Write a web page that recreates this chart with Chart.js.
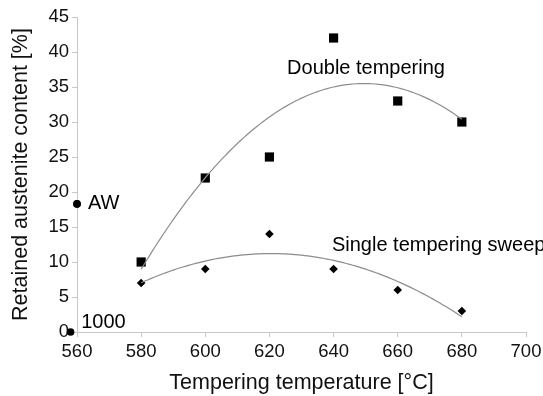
<!DOCTYPE html>
<html>
<head>
<meta charset="utf-8">
<script src="https://cdn.jsdelivr.net/npm/chart.js@4/dist/chart.umd.min.js"></script>
<style>
  html, body { margin: 0; padding: 0; background: #fff; }
  #wrap { width: 543px; height: 396px; position: relative; }
</style>
</head>
<body>
<div id="wrap"><canvas id="austeniteChart"></canvas></div>
<script>
// Measured values
const temps = [580, 600, 620, 640, 660, 680];
const doubleTempering = [10, 22, 25, 42, 33, 30];
const singleTempering = [7, 9, 14, 9, 6, 3];
// reference states: as-welded and 1000
const refTemps = [560, 558];
const refValues = [18.3, 0];
const refNames = ['AW', '1000'];

const xTicks = [560, 580, 600, 620, 640, 660, 680, 700];
const yTicks = [0, 5, 10, 15, 20, 25, 30, 35, 40, 45];

const FONT = 'Liberation Sans, Arial, sans-serif';

// 2nd order least squares trendline (like the spreadsheet trendline)
function polyFit2(xs, ys) {
    const n = xs.length;
    let sx = 0, sx2 = 0, sx3 = 0, sx4 = 0, sy = 0, sxy = 0, sx2y = 0;
    for (let i = 0; i < n; i++) {
        const x = xs[i], y = ys[i];
        sx += x; sx2 += x * x; sx3 += x * x * x; sx4 += x * x * x * x;
        sy += y; sxy += x * y; sx2y += x * x * y;
    }
    // solve 3x3 normal equations with Cramer's rule
    const m = [[n, sx, sx2], [sx, sx2, sx3], [sx2, sx3, sx4]];
    const r = [sy, sxy, sx2y];
    const det = a => a[0][0] * (a[1][1] * a[2][2] - a[1][2] * a[2][1])
        - a[0][1] * (a[1][0] * a[2][2] - a[1][2] * a[2][0])
        + a[0][2] * (a[1][0] * a[2][1] - a[1][1] * a[2][0]);
    const d = det(m);
    const coef = [0, 1, 2].map(k => {
        const mk = m.map((row, i) => row.map((v, j) => (j === k ? r[i] : v)));
        return det(mk) / d;
    });
    return x => coef[0] + coef[1] * x + coef[2] * x * x;
}

function trendPoints(xs, ys) {
    const f = polyFit2(xs.map(x => x - 630), ys);
    const pts = [];
    for (let x = xs[0]; x <= xs[xs.length - 1]; x += 1) {
        pts.push({ x: x, y: f(x - 630) });
    }
    return pts;
}

const toPoints = (xs, ys) => xs.map((x, i) => ({ x: x, y: ys[i] }));

// text labels placed in data coordinates (left edge, vertical middle)
const annotations = [
    { text: 'Double tempering', x: 625.5, y: 37.6 },
    { text: 'Single tempering sweep', x: 639.5, y: 12.4 },
    { text: refNames[0], x: 563.4, y: 18.3 },
    { text: refNames[1], x: 561.3, y: 1.4 }
];

const textLabels = {
    id: 'textLabels',
    afterDatasetsDraw(chart) {
        const { ctx, scales } = chart;
        // the 1000 point sits just left of the axis, draw it without the area check
        chart.getDatasetMeta(4).data.forEach(el => el.draw(ctx));
        ctx.save();
        ctx.font = '20px ' + FONT;
        ctx.fillStyle = '#000';
        ctx.textAlign = 'left';
        ctx.textBaseline = 'middle';
        annotations.forEach(a => {
            ctx.fillText(a.text, scales.x.getPixelForValue(a.x), scales.y.getPixelForValue(a.y));
        });
        ctx.restore();
    }
};

const ctx = document.getElementById('austeniteChart').getContext('2d');
new Chart(ctx, {
    type: 'scatter',
    data: {
        datasets: [
            {
                label: 'Double tempering trend',
                type: 'line',
                data: trendPoints(temps, doubleTempering),
                borderColor: '#8c8c8c',
                borderWidth: 1.2,
                pointRadius: 0,
                fill: false
            },
            {
                label: 'Single tempering trend',
                type: 'line',
                data: trendPoints(temps, singleTempering),
                borderColor: '#8c8c8c',
                borderWidth: 1.2,
                pointRadius: 0,
                fill: false
            },
            {
                label: 'Double tempering',
                data: toPoints(temps, doubleTempering),
                pointStyle: 'rect',
                pointRadius: 6.5,
                backgroundColor: '#000',
                borderColor: '#000',
                borderWidth: 0
            },
            {
                label: 'Single tempering sweep',
                data: toPoints(temps, singleTempering),
                pointStyle: 'rectRot',
                pointRadius: 4.3,
                backgroundColor: '#000',
                borderColor: '#000',
                borderWidth: 0
            },
            {
                label: 'Reference',
                data: toPoints(refTemps, refValues),
                pointStyle: 'circle',
                pointRadius: 3.8,
                backgroundColor: '#000',
                borderColor: '#000',
                borderWidth: 0,
                clip: false
            }
        ]
    },
    options: {
        responsive: true,
        maintainAspectRatio: false,
        animation: false,
        layout: { padding: { top: 17, right: 17, left: 0, bottom: 0 } },
        plugins: {
            legend: { display: false },
            tooltip: { enabled: false }
        },
        scales: {
            x: {
                type: 'linear',
                min: 560,
                max: 700,
                afterBuildTicks: s => { s.ticks = xTicks.map(v => ({ value: v })); },
                afterFit: s => { s.height = 64; s.paddingRight = 0; s.paddingLeft = 0; },
                border: { color: '#c8c8c8', width: 1 },
                grid: { drawOnChartArea: false, color: '#c8c8c8', tickLength: 5 },
                ticks: { color: '#111', font: { family: FONT, size: 18.5 }, padding: 4, maxRotation: 0 },
                title: {
                    display: true,
                    text: 'Tempering temperature [°C]',
                    color: '#111',
                    font: { family: FONT, size: 21.5 },
                    padding: { top: 2, bottom: 0 }
                }
            },
            y: {
                min: 0,
                max: 45,
                afterBuildTicks: s => { s.ticks = yTicks.map(v => ({ value: v })); },
                afterFit: s => { s.width = 77; },
                border: { color: '#c8c8c8', width: 1 },
                grid: { drawOnChartArea: false, color: '#c8c8c8', tickLength: 5 },
                ticks: { color: '#111', font: { family: FONT, size: 18.5 }, padding: 3 },
                title: {
                    display: true,
                    text: 'Retained austenite content [%]',
                    color: '#111',
                    font: { family: FONT, size: 21.5 },
                    padding: { top: 8, bottom: 0 }
                }
            }
        }
    },
    plugins: [textLabels]
});
</script>
</body>
</html>
